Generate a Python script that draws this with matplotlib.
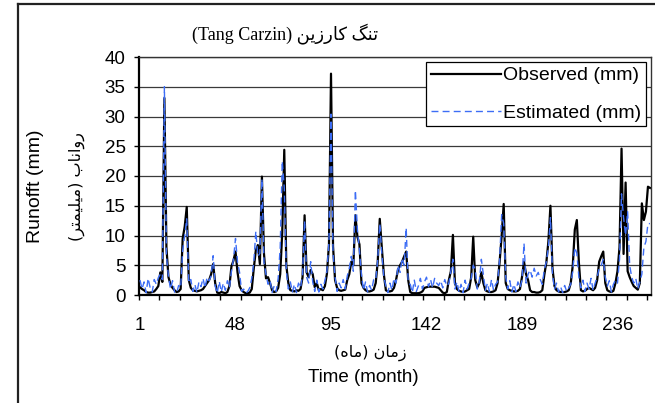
import numpy as np
import matplotlib
matplotlib.use("Agg")
import matplotlib.pyplot as plt
from matplotlib.lines import Line2D

# --- monthly runoff (mm), 252 months ---
observed = [
    1.3, 1.0, 0.8, 0.5, 0.4, 0.4, 0.5, 0.6, 1.0, 1.5, 3.8, 2.2,
    33.1, 8.0, 3.0, 1.8, 1.2, 0.8, 0.5, 0.6, 1.0, 9.5, 11.5, 14.8,
    2.5, 1.2, 0.8, 0.7, 0.6, 0.7, 0.8, 1.0, 1.5, 2.0, 2.5, 3.5,
    5.2, 2.0, 0.4, 0.3, 0.5, 0.4, 0.3, 0.5, 1.5, 4.8, 5.8, 7.3,
    3.8, 1.5, 0.8, 0.5, 0.3, 0.3, 0.4, 1.0, 4.5, 7.5, 8.4, 5.2,
    19.9, 7.0, 2.8, 3.0, 2.0, 0.8, 0.5, 0.6, 1.2, 3.5, 10.5, 24.4,
    5.0, 2.0, 0.8, 0.7, 0.6, 0.8, 0.7, 1.0, 3.0, 13.4, 3.8, 3.0,
    4.2, 3.5, 1.3, 2.0, 0.8, 1.0, 0.8, 1.5, 3.6, 8.5, 37.2, 8.2,
    2.5, 1.2, 0.8, 0.7, 0.8, 0.9, 2.5, 3.5, 5.6, 5.0, 13.4, 9.8,
    8.5, 2.0, 1.2, 0.8, 0.6, 0.6, 0.7, 0.9, 2.0, 5.6, 12.8, 8.0,
    3.5, 0.8, 0.6, 0.6, 0.7, 1.2, 2.5, 4.3, 5.0, 5.6, 6.5, 7.3,
    2.5, 0.5, 0.3, 0.3, 0.3, 0.3, 0.4, 0.6, 1.2, 1.3, 1.4, 1.4,
    1.4, 1.4, 1.3, 1.2, 0.8, 0.4, 0.3, 0.5, 2.5, 4.0, 10.1, 2.0,
    1.0, 0.7, 0.6, 0.5, 0.6, 0.8, 1.0, 3.0, 9.8, 2.5, 1.3, 2.0,
    3.8, 2.0, 0.8, 0.6, 0.5, 0.5, 0.6, 0.8, 2.0, 5.6, 10.0, 15.3,
    2.0, 1.0, 0.8, 0.7, 0.6, 0.6, 0.7, 1.0, 3.0, 5.6, 3.5, 2.5,
    0.8, 0.5, 0.5, 0.4, 0.4, 0.5, 0.8, 3.4, 5.5, 9.0, 15.0, 4.5,
    1.5, 0.8, 0.6, 0.5, 0.5, 0.5, 0.6, 0.8, 2.0, 5.0, 11.0, 12.6,
    5.5, 0.8, 0.6, 0.7, 1.0, 1.2, 1.0, 0.8, 1.2, 2.5, 5.6, 6.5,
    7.3, 2.0, 0.8, 0.6, 0.5, 0.7, 2.0, 4.0, 8.0, 24.6, 6.9, 18.9,
    4.0, 3.0, 2.2, 1.5, 1.2, 0.9, 2.0, 15.4, 12.6, 14.0, 18.2, 18.0,
][:252]

estimated = [
    2.5, 1.0, 2.2, 0.4, 2.8, 1.2, 0.5, 2.6, 1.8, 2.9, 3.5, 2.6,
    35.0, 6.5, 3.2, 1.0, 2.4, 0.5, 0.3, 1.6, 1.2, 7.5, 10.0, 12.8,
    2.0, 2.6, 0.6, 1.8, 0.4, 2.2, 1.4, 2.8, 1.2, 3.0, 2.4, 3.2,
    6.6, 1.5, 0.3, 2.3, 0.5, 2.0, 0.8, 2.4, 1.2, 4.0, 6.0, 9.5,
    5.5, 3.8, 0.6, 1.0, 0.3, 0.6, 1.2, 2.8, 5.5, 10.7, 6.5, 7.0,
    19.5, 5.5, 3.5, 1.8, 2.5, 0.4, 1.5, 0.6, 2.8, 8.0, 22.5, 18.0,
    4.0, 1.0, 2.2, 0.5, 1.8, 0.4, 2.0, 1.2, 3.5, 12.5, 3.0, 2.0,
    5.6, 2.2, 0.6, 2.5, 0.5, 1.8, 1.0, 2.4, 4.0, 9.0, 30.4, 7.0,
    3.0, 0.6, 2.0, 1.2, 2.6, 1.0, 3.2, 4.5, 6.5, 4.0, 17.6, 11.0,
    7.5, 3.4, 0.8, 2.2, 0.5, 1.6, 0.8, 2.6, 2.5, 6.0, 12.0, 7.0,
    3.0, 1.5, 0.4, 2.0, 0.8, 2.8, 2.0, 5.0, 3.8, 6.2, 5.0, 11.3,
    2.0, 1.8, 0.4, 2.5, 0.6, 1.5, 2.8, 1.0, 2.2, 3.0, 1.4, 2.6,
    1.2, 2.8, 2.0, 1.6, 2.4, 1.2, 2.6, 1.5, 2.0, 4.0, 6.0, 1.0,
    2.2, 0.5, 1.8, 0.4, 2.5, 1.0, 2.0, 2.8, 5.0, 4.3, 1.0, 2.2,
    6.0, 3.4, 0.8, 2.0, 0.5, 2.6, 0.8, 1.8, 2.2, 6.0, 13.5, 12.0,
    3.0, 1.0, 2.4, 0.5, 1.8, 0.6, 2.2, 1.2, 2.5, 8.7, 2.0, 3.5,
    4.2, 3.0, 4.5, 3.2, 3.8, 2.6, 1.8, 4.3, 5.6, 8.0, 13.0, 3.5,
    1.0, 2.0, 0.5, 1.4, 0.4, 1.6, 0.6, 1.2, 1.8, 4.0, 8.0, 7.0,
    3.0, 1.2, 2.5, 0.6, 2.0, 1.0, 2.8, 0.8, 2.0, 3.0, 4.5, 5.0,
    6.0, 3.0, 1.5, 2.4, 0.5, 1.8, 2.5, 2.0, 6.0, 17.0, 13.0, 10.0,
    14.0, 5.0, 3.0, 2.0, 2.8, 1.0, 2.2, 3.5, 8.0, 9.0, 12.0, 12.0,
]

months = np.arange(1, len(observed) + 1)
xtick_labels = [1, 48, 95, 142, 189, 236]
yticks = list(range(0, 45, 5))

# Persian text, glyphs given in shaped (presentation) form and visual order
# title: "تنگ کارزین (Tang Carzin)"
title_txt = "(Tang Carzin) \uFEE6\uFBFE\uFEAF\uFEAD\uFE8E\uFB90 \uFB93\uFEE8\uFE97"
# "رواناب (میلیمتر)"
ylabel_fa = "(\uFEAE\uFE98\uFEE4\uFBFF\uFEE0\uFBFF\uFEE3) \uFE8F\uFE8E\uFEE7\uFE8D\uFEED\uFEAD"
# "زمان (ماه)"
xlabel_fa = "(\uFEE9\uFE8E\uFEE3) \uFEE5\uFE8E\uFEE3\uFEAF"

plt.rcParams['font.family'] = ['Liberation Sans', 'DejaVu Sans']

W, H = 655, 403
fig = plt.figure(figsize=(W / 100, H / 100), dpi=100)
ax = fig.add_axes([139 / W, 1 - 295 / H, 512 / W, 238 / H])

ax.plot(months, observed, color='black', lw=1.6, label='Observed (mm)', zorder=3)
ax.plot(months, estimated, color='#3d6df5', lw=1.0, ls=(0, (5, 3)),
        label='Estimated (mm)', zorder=4)

ax.set_xlim(0.5, len(observed) + 0.5)
ax.set_ylim(0, 40)
ax.set_yticks(yticks)
ax.set_xticks(xtick_labels)
ax.set_xticks(np.arange(0.5, len(observed) + 1, 10), minor=True)
ax.tick_params(axis='x', which='major', length=0, pad=16, labelsize=13.5)
ax.tick_params(axis='x', which='minor', length=3.6, width=1, direction='out')
ax.tick_params(axis='y', length=3.6, width=1, pad=6, labelsize=13.5, direction='out')

ax.yaxis.grid(True, color='#3a3a3a', lw=0.9, zorder=0)
ax.set_axisbelow(True)
for side in ['left', 'bottom']:
    ax.spines[side].set_linewidth(1.6)
for side in ['top', 'right']:
    ax.spines[side].set_linewidth(1.0)
    ax.spines[side].set_color('#333333')

leg = ax.legend(loc='upper right', bbox_to_anchor=(0.99, 0.979), borderaxespad=0,
                fontsize=14, frameon=True, fancybox=False, edgecolor='black',
                framealpha=1, handlelength=3.6, handletextpad=0.1,
                borderpad=0.25, labelspacing=1.0)
leg.get_frame().set_linewidth(0.9)

fig.text(285 / W, 1 - 34 / H, title_txt, ha='center', va='center', fontsize=13,
         family=['Liberation Serif', 'DejaVu Sans'])
fig.text(35 / W, 1 - 186 / H, 'Runofft (mm)', rotation=90, ha='center', va='center',
         fontsize=14)
fig.text(77 / W, 1 - 187 / H, ylabel_fa, rotation=90, ha='center', va='center',
         fontsize=11.5, family=['DejaVu Sans'])
fig.text(370 / W, 1 - 353 / H, xlabel_fa, ha='center', va='center', fontsize=11.5,
         family=['DejaVu Sans'])
fig.text(363 / W, 1 - 377 / H, 'Time (month)', ha='center', va='center', fontsize=13.5)

# chart area border (runs off the right and bottom of the picture)
fig.add_artist(Line2D([18 / W, 18 / W], [0, 1 - 4 / H], color='#222222', lw=1.6))
fig.add_artist(Line2D([18 / W, 1], [1 - 4 / H, 1 - 4 / H], color='#222222', lw=1.6))

fig.savefig('out.png', dpi=100)
